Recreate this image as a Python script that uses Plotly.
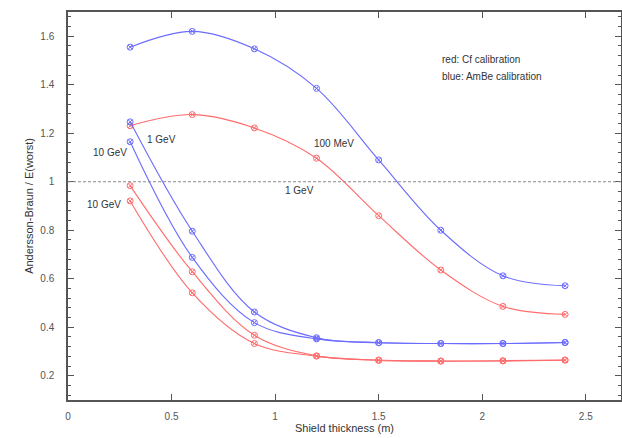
import plotly.graph_objects as go

# Shield thickness (m)
thickness = [0.3, 0.6, 0.9, 1.2, 1.5, 1.8, 2.1, 2.4]

# Andersson-Braun / E(worst)
blue_100MeV = [1.555, 1.62, 1.548, 1.385, 1.09, 0.80, 0.612, 0.571]
red_100MeV = [1.231, 1.277, 1.222, 1.097, 0.86, 0.636, 0.486, 0.453]
blue_1GeV = [1.247, 0.796, 0.463, 0.357, 0.337, 0.333, 0.333, 0.337]
blue_10GeV = [1.165, 0.688, 0.419, 0.352, 0.336, 0.333, 0.333, 0.337]
red_1GeV = [0.984, 0.629, 0.367, 0.282, 0.265, 0.261, 0.262, 0.265]
red_10GeV = [0.921, 0.542, 0.333, 0.281, 0.263, 0.260, 0.261, 0.264]

x_ticks = [0, 0.5, 1, 1.5, 2, 2.5]
x_tick_labels = ["0", "0.5", "1", "1.5", "2", "2.5"]
y_ticks = [0.2, 0.4, 0.6, 0.8, 1.0, 1.2, 1.4, 1.6]
y_tick_labels = ["0.2", "0.4", "0.6", "0.8", "1", "1.2", "1.4", "1.6"]

BLUE = "#6b6bff"
RED = "#ff6b6b"

series = [
    ("Blue 100 MeV", blue_100MeV, BLUE),
    ("Red 100 MeV", red_100MeV, RED),
    ("Blue 1 GeV", blue_1GeV, BLUE),
    ("Blue 10 GeV", blue_10GeV, BLUE),
    ("Red 1 GeV", red_1GeV, RED),
    ("Red 10 GeV", red_10GeV, RED),
]

fig = go.Figure()
for name, ys, col in series:
    fig.add_trace(go.Scatter(
        x=thickness, y=ys, name=name, mode="lines+markers",
        line=dict(color=col, width=1.1, shape="spline", smoothing=1.0),
        marker=dict(symbol="circle-x-open", size=6, color=col, line=dict(width=1)),
        showlegend=False,
    ))

# reference line at 1
fig.add_shape(type="line", xref="paper", x0=0, x1=1, yref="y", y0=1, y1=1,
              line=dict(color="#888888", width=1, dash="3px,2px"))

font_txt = dict(family="Liberation Sans, Arial, sans-serif", size=10, color="#333333")
notes = [
    (1.797, 1.505, "red: Cf calibration"),
    (1.797, 1.435, "blue: AmBe calibration"),
    (0.372, 1.173, "1 GeV"),
    (0.111, 1.119, "10 GeV"),
    (0.082, 0.906, "10 GeV"),
    (1.177, 1.156, "100 MeV"),
    (1.039, 0.963, "1 GeV"),
]
for xx, yy, t in notes:
    fig.add_annotation(x=xx, y=yy, text=t, showarrow=False, xanchor="left",
                       yanchor="middle", font=font_txt)

axis_common = dict(
    showgrid=False, zeroline=False, showline=True, linecolor="#555555",
    linewidth=1.5, mirror="ticks", ticks="inside", tickcolor="#555555",
    ticklen=6, tickwidth=1, automargin=False,
    tickfont=dict(family="Liberation Sans, Arial, sans-serif", size=10, color="#555555"),
)

fig.update_xaxes(
    range=[0, 2.67], tickvals=x_ticks, ticktext=x_tick_labels,
    title=dict(text="Shield thickness (m)", standoff=4,
               font=dict(family="Liberation Sans, Arial, sans-serif", size=11, color="#333333")),
    ticklabelstandoff=6,
    **axis_common,
)
fig.update_yaxes(
    range=[0.1, 1.7], tickvals=y_ticks, ticktext=y_tick_labels,
    minor=dict(dtick=0.04, ticks="inside", ticklen=3, tickcolor="#555555", tick0=0),
    title=dict(text="Andersson-Braun / E(worst)", standoff=4,
               font=dict(family="Liberation Sans, Arial, sans-serif", size=11, color="#333333")),
    ticklabelstandoff=10,
    **axis_common,
)

fig.update_layout(
    width=622, height=438,
    margin=dict(l=68, r=1, t=12, b=38),
    paper_bgcolor="white", plot_bgcolor="white",
)

fig.write_html(
    "out.html",
    config={"displayModeBar": False},
    post_script="document.body.style.margin='0px';document.body.style.overflow='hidden';",
)
